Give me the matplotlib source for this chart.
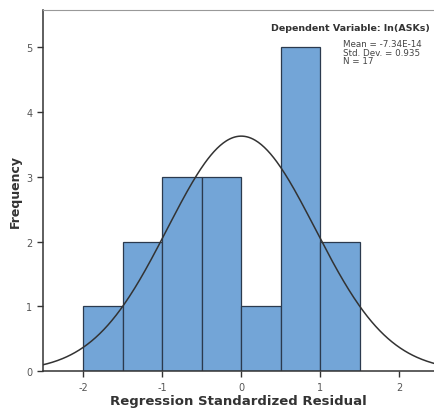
import numpy as np
import matplotlib.pyplot as plt

plt.rcParams['axes.unicode_minus'] = False

# histogram of standardized residuals
bin_edges = [-2.0, -1.5, -1.0, -0.5, 0.0, 0.5, 1.0, 1.5]
counts = [1, 2, 3, 3, 1, 5, 2]
mean = -7.34e-14
std = 0.935
n = 17

fig = plt.figure(figsize=(4.34, 4.14), dpi=100)
ax = fig.add_axes([0.099, 0.101, 0.901, 0.872])

widths = np.diff(bin_edges)
ax.bar(bin_edges[:-1], counts, width=widths, align='edge',
       color='#73a5d7', edgecolor='#2b3a4e', linewidth=0.9, zorder=2)

# normal curve scaled to counts
x = np.linspace(-2.6, 2.6, 400)
y = n * widths[0] / (std * np.sqrt(2 * np.pi)) * np.exp(-0.5 * ((x - mean) / std) ** 2)
ax.plot(x, y, color='#333333', linewidth=1.1, zorder=3)

ax.set_xlim(-2.51, 2.44)
ax.set_ylim(0, 5.57)
ax.set_xticks([-2, -1, 0, 1, 2])
ax.set_yticks([0, 1, 2, 3, 4, 5])
ax.tick_params(axis='both', colors='#333333', labelcolor='#555555', labelsize=7, length=4, width=1)

for side in ['left', 'bottom']:
    ax.spines[side].set_color('#333333')
    ax.spines[side].set_linewidth(1.1)
ax.spines['top'].set_color('#999999')
ax.spines['right'].set_visible(False)

ax.set_xlabel('Regression Standardized Residual', fontsize=9.5, fontweight='bold', color='#333333', labelpad=2)
ax.set_ylabel('Frequency', fontsize=9, fontweight='bold', color='#333333', labelpad=3)

ax.text(0.99, 0.965, 'Dependent Variable: ln(ASKs)', transform=ax.transAxes,
        ha='right', va='top', fontsize=6.8, fontweight='bold', color='#333333')
ax.text(0.768, 0.92, 'Mean = -7.34E-14\nStd. Dev. = 0.935\nN = 17',
        transform=ax.transAxes, ha='left', va='top', fontsize=6.3,
        color='#444444', linespacing=0.95)

fig.savefig('out.png', dpi=100)
